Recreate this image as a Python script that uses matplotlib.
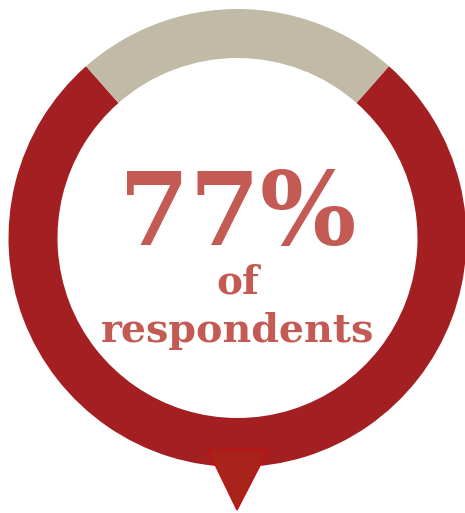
import matplotlib.pyplot as plt
from matplotlib.patches import Polygon

# share of respondents
values = [77, 23]
colors = ["#A31F22", "#C1BAA6"]
big_label = "77%"
sub_labels = ["of", "respondents"]

W, H = 465, 513
fig = plt.figure(figsize=(W / 100, H / 100), dpi=100)
ax = fig.add_axes([0, 0, 1, 1])

cx, cy, r = 237.5, 238, 229
# y axis is flipped (pixel coords), so 270 deg in data is the visual top
start = 270 + values[1] / sum(values) * 360 / 2
ax.pie(values, colors=colors, startangle=start, counterclock=True,
       radius=r, center=(cx, cy), frame=True,
       wedgeprops=dict(width=49, linewidth=0))
ax.set_xlim(0, W)
ax.set_ylim(H, 0)
ax.set_aspect("equal")
ax.axis("off")

tri = Polygon([(208, 450), (268, 450), (237, 510)], closed=True,
              facecolor="#A8231A", edgecolor="#C41010", linewidth=1)
ax.add_patch(tri)

txt_color = "#C45A54"
ax.text(cx, 245, big_label, ha="center", va="baseline", color=txt_color,
        fontsize=73, fontweight="bold", family="DejaVu Serif")
ax.text(cx, 293, sub_labels[0], ha="center", va="baseline", color=txt_color,
        fontsize=28, fontweight="bold", family="DejaVu Serif")
ax.text(cx, 342, sub_labels[1], ha="center", va="baseline", color=txt_color,
        fontsize=28.5, fontweight="bold", family="DejaVu Serif")

fig.savefig("out.png", dpi=100)
